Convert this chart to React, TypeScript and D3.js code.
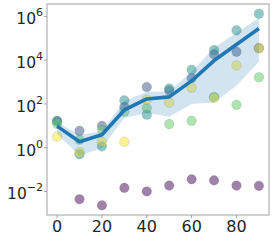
import { useEffect, useRef } from 'react';
import * as d3 from 'd3';

const xs = [0, 10, 20, 30, 40, 50, 60, 70, 80, 90];

// one list per hue level (viridis order)
const purple = [0, 0.0044, 0.0023, 0.0145, 0.01, 0.0185, 0.036, 0.032, 0.0185, 0.018];
const slate = [17, 5.9, 10, 74, 590, 410, 1500, 18600, 24000, 35500];
const teal = [16, 0.5, 1.15, 145, 32, 510, 3600, 29000, 229000, 1320000];
const green = [12.3, 2.3, 6.5, 44, 65, 12, 17, 209, 91, 1660];
const yellow = [3.2, 0.62, 1.86, 1.86, 155, 115, 550, 190, 5750, 34700];

const seriesColors = ['#440154', '#3b528b', '#21918c', '#5ec962', '#fde725'];

// confidence band
const bandLow = [4.3, 0.43, 0.98, 23, 39, 26, 100, 117, 676, 8500];
const bandHigh = [15, 3.8, 5.6, 138, 355, 380, 2950, 37000, 178000, 870000];

const xTicks = [0, 20, 40, 60, 80];
const yTickExps = [-2, 0, 2, 4, 6];

export default function App() {
  const ref = useRef<SVGSVGElement | null>(null);

  useEffect(() => {
    const W = 274;
    const H = 240;
    const left = 47;
    const right = 269;
    const top = 4;
    const bottom = 215;

    const svg = d3.select(ref.current);
    svg.selectAll('*').remove();
    svg.attr('width', W).attr('height', H);

    const x = d3.scaleLinear().domain([-4.5, 94.5]).range([left, right]);
    const y = d3
      .scaleLog()
      .domain([Math.pow(10, -3.076), Math.pow(10, 6.567)])
      .range([bottom, top]);

    const all = [purple, slate, teal, green, yellow];

    // points
    const pts: { x: number; v: number; c: string }[] = [];
    xs.forEach((xv, i) => {
      all.forEach((s, k) => {
        if (s[i] > 0) pts.push({ x: xv, v: s[i], c: seriesColors[k] });
      });
    });

    svg
      .append('g')
      .selectAll('circle')
      .data(pts)
      .enter()
      .append('circle')
      .attr('cx', (d) => x(d.x))
      .attr('cy', (d) => y(d.v))
      .attr('r', 4.8)
      .attr('fill', (d) => d.c)
      .attr('fill-opacity', 0.5)
      .attr('stroke', '#555')
      .attr('stroke-opacity', 0.25)
      .attr('stroke-width', 0.6);

    // band
    const area = d3
      .area<number>()
      .x((_d, i) => x(xs[i]))
      .y0((_d, i) => y(bandLow[i]))
      .y1((_d, i) => y(bandHigh[i]));
    svg
      .append('path')
      .datum(xs)
      .attr('d', area)
      .attr('fill', '#1f77b4')
      .attr('fill-opacity', 0.2);

    // mean line
    const means = xs.map((_xv, i) => d3.mean(all, (s) => s[i]) as number);
    const line = d3
      .line<number>()
      .x((_d, i) => x(xs[i]))
      .y((d) => y(d));
    svg
      .append('path')
      .datum(means)
      .attr('d', line)
      .attr('fill', 'none')
      .attr('stroke', '#1f77b4')
      .attr('stroke-width', 3.6)
      .attr('stroke-linejoin', 'round')
      .attr('stroke-linecap', 'butt');

    // frame
    svg
      .append('rect')
      .attr('x', left)
      .attr('y', top)
      .attr('width', right - left)
      .attr('height', bottom - top)
      .attr('fill', 'none')
      .attr('stroke', '#a0a0a0')
      .attr('stroke-width', 1);

    const font = 'DejaVu Sans, sans-serif';

    // x ticks
    const xg = svg.append('g');
    xTicks.forEach((t) => {
      xg.append('line')
        .attr('x1', x(t))
        .attr('x2', x(t))
        .attr('y1', bottom)
        .attr('y2', bottom + 3)
        .attr('stroke', '#a0a0a0');
      xg.append('text')
        .attr('x', x(t))
        .attr('y', 231.5)
        .attr('text-anchor', 'middle')
        .style('font-family', font)
        .style('font-size', '16px')
        .style('fill', '#262626')
        .text(t);
    });

    // y ticks
    const yg = svg.append('g');
    yTickExps.forEach((e) => {
      const yy = y(Math.pow(10, e));
      yg.append('line')
        .attr('x1', left - 3)
        .attr('x2', left)
        .attr('y1', yy)
        .attr('y2', yy)
        .attr('stroke', '#a0a0a0');
      const t = yg
        .append('text')
        .attr('x', 43)
        .attr('y', yy + 8)
        .attr('text-anchor', 'end')
        .style('font-family', font)
        .style('font-size', '15.5px')
        .style('fill', '#262626');
      t.append('tspan').text('10');
      t.append('tspan')
        .attr('dy', -8)
        .style('font-size', '11px')
        .text(e < 0 ? '\u2212' + Math.abs(e) : String(e));
    });
  }, []);

  return (
    <svg
      ref={ref}
      style={{ position: 'absolute', left: 0, top: 0, background: '#fff' }}
    />
  );
}
